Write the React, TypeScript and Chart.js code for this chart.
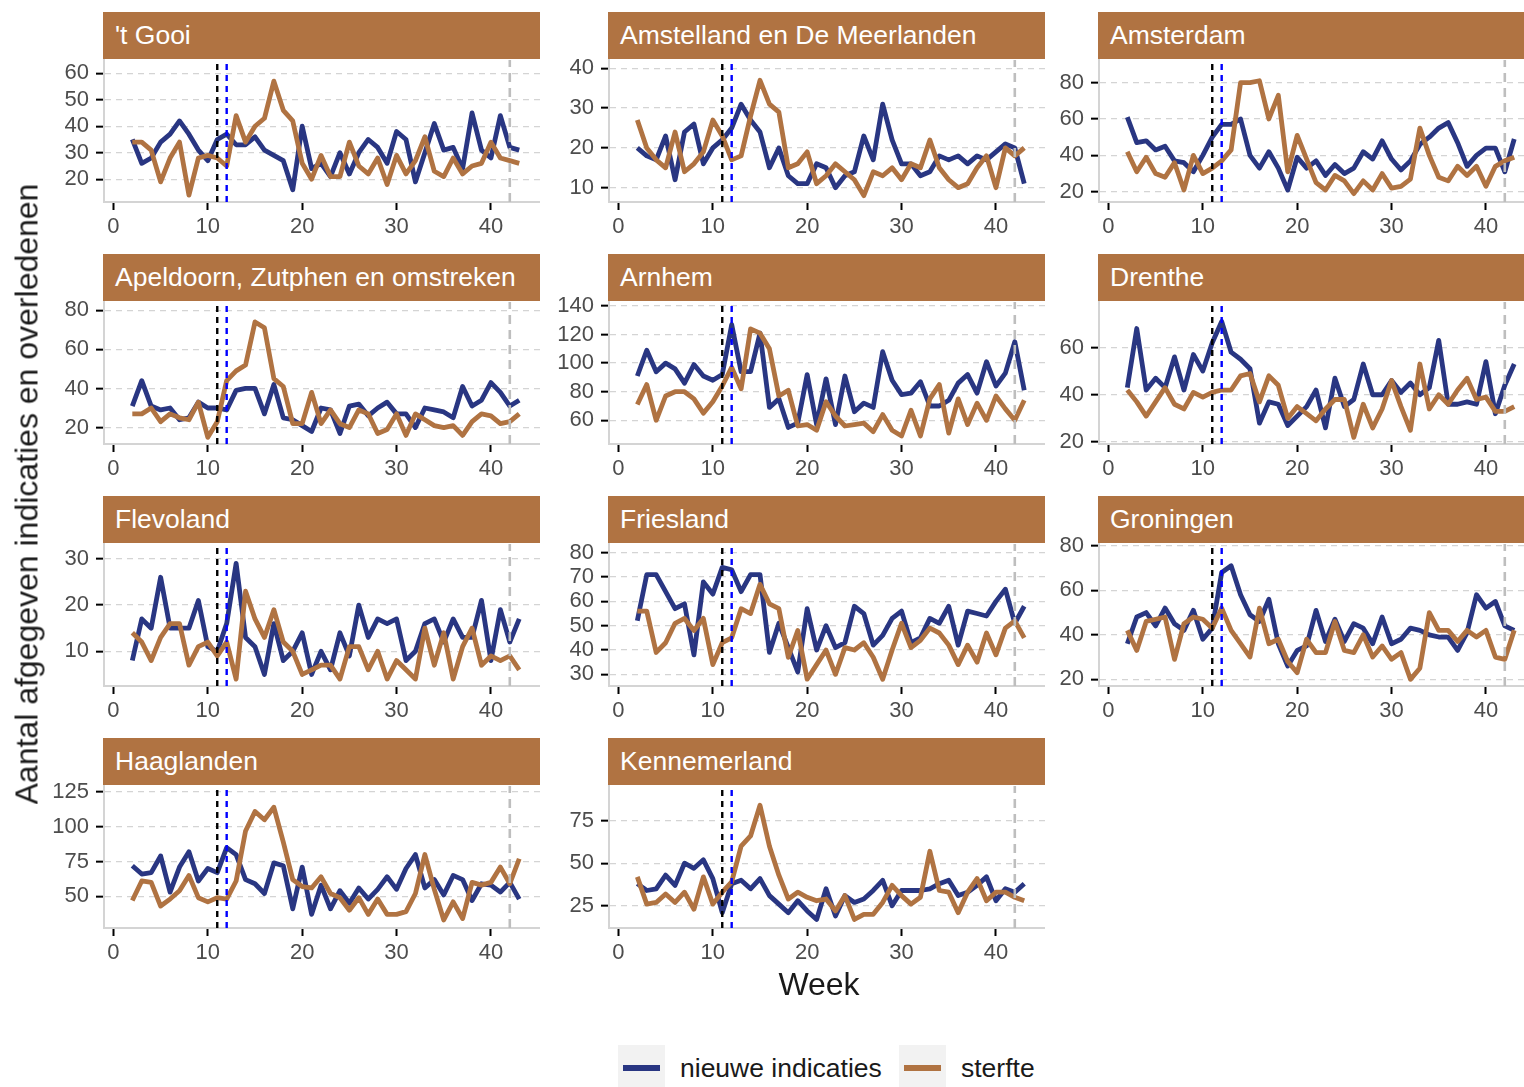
import React, { useEffect, useRef } from "react";
import { Chart, registerables } from "chart.js";

Chart.register(...registerables);

// ---------- data ----------
const weeks = [2, 3, 4, 5, 6, 7, 8, 9, 10, 11, 12, 13, 14, 15, 16, 17, 18, 19, 20, 21, 22, 23, 24, 25, 26, 27, 28, 29, 30, 31, 32, 33, 34, 35, 36, 37, 38, 39, 40, 41, 42, 43];
const xTicks = [0, 10, 20, 30, 40];
const seriesNames = ["nieuwe indicaties", "sterfte"];

const gooiIndicaties = [35, 26, 28, 34, 37, 42, 37, 31, 27, 35, 37, 33, 33, 36, 31, 29, 27, 16, 40, 24, 26, 21, 30, 22, 30, 35, 32, 26, 38, 35, 19, 30, 41, 31, 32, 24, 45, 31, 28, 44, 32, 31];
const gooiSterfte = [34, 34, 31, 19, 28, 34, 14, 28, 29, 28, 25, 44, 34, 40, 43, 57, 46, 42, 26, 20, 29, 21, 21, 34, 25, 22, 28, 18, 29, 22, 27, 36, 23, 21, 28, 22, 25, 26, 34, 28, 27, 26];
const gooiTicks = [20, 30, 40, 50, 60];

const amstellandIndicaties = [20, 18, 17, 23, 12, 24, 26, 16, 20, 22, 25, 31, 27, 24, 15, 20, 13, 11, 11, 16, 15, 10, 13, 14, 23, 17, 31, 22, 16, 16, 13, 14, 18, 17, 18, 16, 18, 17, 19, 21, 20, 11];
const amstellandSterfte = [27, 20, 17, 15, 24, 14, 16, 19, 27, 23, 17, 18, 28, 37, 31, 29, 15, 16, 19, 11, 13, 16, 14, 12, 8, 14, 13, 15, 12, 16, 15, 22, 15, 12, 10, 11, 15, 18, 10, 20, 18, 20];
const amstellandTicks = [10, 20, 30, 40];

const amsterdamIndicaties = [61, 47, 48, 43, 45, 37, 36, 31, 40, 50, 57, 57, 60, 40, 33, 42, 33, 21, 39, 33, 37, 29, 35, 30, 33, 42, 38, 48, 38, 32, 37, 46, 50, 55, 58, 47, 34, 40, 44, 44, 31, 49];
const amsterdamSterfte = [42, 31, 39, 30, 28, 36, 21, 40, 30, 33, 37, 43, 80, 80, 81, 60, 73, 31, 51, 38, 25, 21, 29, 26, 19, 26, 21, 30, 22, 23, 27, 55, 40, 28, 26, 34, 29, 34, 23, 34, 37, 39];
const amsterdamTicks = [20, 40, 60, 80];

const apeldoornIndicaties = [31, 44, 31, 29, 30, 24, 25, 33, 30, 30, 29, 39, 40, 40, 27, 42, 25, 24, 21, 18, 30, 29, 17, 31, 32, 26, 30, 33, 27, 27, 20, 30, 29, 28, 25, 41, 31, 34, 43, 38, 31, 34];
const apeldoornSterfte = [27, 27, 30, 23, 27, 25, 24, 33, 15, 23, 44, 49, 52, 74, 71, 45, 41, 22, 22, 38, 22, 29, 22, 20, 29, 27, 17, 19, 27, 16, 27, 24, 21, 20, 21, 16, 23, 27, 26, 22, 23, 27];
const apeldoornTicks = [20, 40, 60, 80];

const arnhemIndicaties = [91, 109, 94, 100, 96, 86, 99, 91, 88, 92, 127, 94, 94, 121, 69, 75, 55, 58, 92, 57, 89, 57, 91, 66, 72, 69, 108, 88, 78, 79, 87, 70, 70, 74, 86, 92, 79, 101, 84, 93, 115, 81];
const arnhemSterfte = [71, 85, 60, 77, 80, 80, 75, 65, 73, 84, 97, 82, 124, 121, 110, 77, 81, 56, 57, 53, 73, 63, 56, 57, 58, 52, 64, 53, 49, 67, 49, 75, 85, 51, 75, 57, 72, 60, 77, 68, 60, 74];
const arnhemTicks = [60, 80, 100, 120, 140];

const drentheIndicaties = [43, 68, 42, 47, 43, 56, 42, 57, 50, 62, 71, 58, 55, 51, 28, 37, 36, 27, 31, 35, 42, 26, 47, 35, 38, 53, 40, 40, 46, 41, 45, 40, 43, 63, 36, 36, 37, 36, 54, 32, 44, 53];
const drentheSterfte = [42, 37, 31, 37, 43, 36, 34, 41, 39, 41, 42, 42, 48, 49, 37, 48, 44, 30, 35, 32, 29, 34, 38, 38, 22, 36, 26, 34, 46, 35, 25, 53, 34, 40, 36, 42, 47, 38, 39, 33, 33, 35];
const drentheTicks = [20, 40, 60];

const flevolandIndicaties = [8, 17, 15, 26, 15, 15, 15, 21, 11, 10, 16, 29, 13, 11, 5, 16, 8, 10, 14, 5, 10, 6, 14, 9, 20, 13, 17, 16, 17, 8, 10, 16, 17, 12, 17, 13, 13, 21, 8, 19, 12, 17];
const flevolandSterfte = [14, 12, 8, 13, 16, 16, 7, 11, 12, 9, 12, 4, 23, 17, 13, 19, 12, 10, 5, 6, 7, 7, 4, 11, 11, 6, 10, 4, 8, 6, 4, 15, 7, 14, 4, 11, 15, 7, 9, 8, 9, 6];
const flevolandTicks = [10, 20, 30];

const frieslandIndicaties = [52, 71, 71, 64, 57, 59, 38, 68, 63, 74, 73, 64, 71, 71, 39, 51, 41, 31, 57, 40, 50, 41, 43, 58, 55, 42, 46, 53, 56, 43, 45, 53, 51, 58, 42, 56, 55, 54, 60, 65, 51, 58];
const frieslandSterfte = [56, 56, 39, 43, 51, 53, 48, 53, 34, 43, 45, 57, 55, 67, 59, 57, 37, 48, 28, 34, 40, 30, 41, 40, 43, 37, 28, 40, 51, 41, 44, 49, 47, 42, 34, 42, 35, 47, 38, 49, 52, 45];
const frieslandTicks = [30, 40, 50, 60, 70, 80];

const groningenIndicaties = [36, 48, 50, 44, 52, 45, 42, 51, 38, 43, 68, 71, 58, 49, 46, 56, 36, 26, 33, 35, 51, 37, 47, 37, 45, 43, 36, 48, 36, 38, 43, 42, 40, 39, 39, 33, 41, 58, 52, 55, 44, 42];
const groningenSterfte = [42, 33, 46, 47, 48, 29, 45, 48, 47, 43, 52, 42, 36, 30, 52, 36, 38, 28, 23, 38, 32, 32, 46, 33, 32, 40, 30, 35, 29, 32, 20, 25, 50, 42, 42, 37, 42, 39, 42, 30, 29, 42];
const groningenTicks = [20, 40, 60, 80];

const haaglandenIndicaties = [72, 66, 67, 79, 53, 71, 82, 61, 70, 67, 85, 80, 62, 59, 52, 74, 72, 41, 71, 37, 58, 41, 54, 45, 56, 48, 55, 64, 55, 70, 80, 56, 62, 51, 65, 62, 47, 59, 58, 53, 60, 48];
const haaglandenSterfte = [47, 61, 60, 43, 48, 54, 65, 49, 46, 49, 48, 61, 97, 111, 105, 114, 89, 62, 57, 56, 64, 52, 49, 40, 49, 37, 48, 37, 37, 39, 52, 80, 55, 33, 46, 34, 60, 58, 60, 71, 59, 77];
const haaglandenTicks = [50, 75, 100, 125];

const kennemerlandIndicaties = [38, 34, 35, 43, 37, 50, 47, 52, 41, 21, 38, 40, 35, 41, 31, 26, 21, 28, 22, 17, 35, 19, 31, 27, 29, 34, 40, 25, 34, 34, 34, 35, 38, 40, 31, 33, 37, 42, 28, 35, 33, 38];
const kennemerlandSterfte = [42, 26, 27, 32, 27, 33, 23, 42, 26, 33, 39, 60, 66, 84, 60, 43, 29, 33, 30, 28, 29, 22, 31, 17, 20, 20, 27, 37, 31, 26, 30, 57, 34, 33, 21, 33, 41, 28, 33, 33, 30, 28];
const kennemerlandTicks = [25, 50, 75];

const vlineWeeks = [11, 12, 42];

// ---------- styling / layout ----------
const FONT = '"Liberation Sans", Arial, Helvetica, sans-serif';
const BLUE = "#293682";
const BROWN = "#b07342";
const COL_LEFT = [104, 609, 1099];
const ROW_TOP = [60, 302, 544, 786];
const PLOT_W = 436;
const PLOT_H = 142;
const Y_AXIS_W = 60;
const PAD_TOP = 14;
const X_AXIS_H = 44;
const LINE_W = 4.8;

type Panel = {
  name: string;
  ind: number[];
  ster: number[];
  ticks: number[];
  yMin: number;
  yMax: number;
};

const panels: Panel[] = [
  { name: "'t Gooi", ind: gooiIndicaties, ster: gooiSterfte, ticks: gooiTicks, yMin: 11.4, yMax: 65.0 },
  { name: "Amstelland en De Meerlanden", ind: amstellandIndicaties, ster: amstellandSterfte, ticks: amstellandTicks, yMin: 6.4, yMax: 42.1 },
  { name: "Amsterdam", ind: amsterdamIndicaties, ster: amsterdamSterfte, ticks: amsterdamTicks, yMin: 14.4, yMax: 92.4 },
  { name: "Apeldoorn, Zutphen en omstreken", ind: apeldoornIndicaties, ster: apeldoornSterfte, ticks: apeldoornTicks, yMin: 11.6, yMax: 84.2 },
  { name: "Arnhem", ind: arnhemIndicaties, ster: arnhemSterfte, ticks: arnhemTicks, yMin: 43.4, yMax: 142.8 },
  { name: "Drenthe", ind: drentheIndicaties, ster: drentheSterfte, ticks: drentheTicks, yMin: 19.2, yMax: 79.2 },
  { name: "Flevoland", ind: flevolandIndicaties, ster: flevolandSterfte, ticks: flevolandTicks, yMin: 2.5, yMax: 33.2 },
  { name: "Friesland", ind: frieslandIndicaties, ster: frieslandSterfte, ticks: frieslandTicks, yMin: 25.2, yMax: 83.6 },
  { name: "Groningen", ind: groningenIndicaties, ster: groningenSterfte, ticks: groningenTicks, yMin: 17.0, yMax: 80.8 },
  { name: "Haaglanden", ind: haaglandenIndicaties, ster: haaglandenSterfte, ticks: haaglandenTicks, yMin: 27.2, yMax: 129.3 },
  { name: "Kennemerland", ind: kennemerlandIndicaties, ster: kennemerlandSterfte, ticks: kennemerlandTicks, yMin: 12.0, yMax: 95.3 },
];

const vlineStyles = [
  { color: "#000000", dash: [6, 5], width: 2.4 },
  { color: "#0000ff", dash: [6, 5], width: 2.4 },
  { color: "#bebebe", dash: [9, 6], width: 2.6 },
];

function PanelChart({ p, left, top }: { p: Panel; left: number; top: number }) {
  const ref = useRef<HTMLCanvasElement | null>(null);
  useEffect(() => {
    if (!ref.current) return;
    const toPts = (arr: number[]) => weeks.map((w, i) => ({ x: w, y: arr[i] }));
    const vlines = vlineWeeks.map((w, i) => ({
      data: [{ x: w, y: p.yMin }, { x: w, y: p.yMax }],
      borderColor: vlineStyles[i].color,
      borderDash: vlineStyles[i].dash,
      borderWidth: vlineStyles[i].width,
      pointRadius: 0,
      fill: false,
      order: 0,
    }));
    const chart = new Chart(ref.current, {
      type: "line",
      data: {
        datasets: [
          ...vlines,
          {
            label: seriesNames[1],
            data: toPts(p.ster),
            borderColor: BROWN,
            borderWidth: LINE_W,
            pointRadius: 0,
            fill: false,
            borderJoinStyle: "round",
            order: 1,
          },
          {
            label: seriesNames[0],
            data: toPts(p.ind),
            borderColor: BLUE,
            borderWidth: LINE_W,
            pointRadius: 0,
            fill: false,
            borderJoinStyle: "round",
            order: 2,
          },
        ] as any,
      },
      options: {
        animation: false,
        responsive: false,
        events: [],
        layout: { padding: { top: PAD_TOP, left: 0, right: 0, bottom: 0 } },
        plugins: { legend: { display: false }, tooltip: { enabled: false }, title: { display: false } },
        scales: {
          x: {
            type: "linear",
            min: -1.0,
            max: 45.2,
            afterBuildTicks: (s: any) => {
              s.ticks = xTicks.map((v) => ({ value: v }));
            },
            afterFit: (s: any) => {
              s.height = X_AXIS_H;
              s.paddingLeft = 0;
              s.paddingRight = 0;
            },
            grid: { drawOnChartArea: false, drawTicks: true, tickLength: 8, tickWidth: 2, tickColor: "#000" },
            border: { display: true, color: "#d4d4d4", width: 2 },
            ticks: { color: "#4d4d4d", font: { family: FONT, size: 22 }, padding: 4, maxRotation: 0, autoSkip: false },
          },
          y: {
            type: "linear",
            min: p.yMin,
            max: p.yMax,
            afterBuildTicks: (s: any) => {
              s.ticks = p.ticks.map((v) => ({ value: v }));
            },
            afterFit: (s: any) => {
              s.width = Y_AXIS_W;
              s.paddingTop = 0;
              s.paddingBottom = 0;
            },
            grid: { color: "#d4d4d4", lineWidth: 1.3, drawTicks: true, tickLength: 8, tickWidth: 2, tickColor: "#000" },
            border: { display: true, color: "#d4d4d4", width: 2, dash: [6, 5] },
            ticks: { color: "#4d4d4d", font: { family: FONT, size: 22 }, padding: 7, autoSkip: false },
          },
        },
      } as any,
    });
    return () => chart.destroy();
  }, [p]);
  const w = Y_AXIS_W + PLOT_W;
  const h = PAD_TOP + PLOT_H + X_AXIS_H;
  return (
    <canvas
      ref={ref}
      width={w}
      height={h}
      style={{ position: "absolute", left: left - Y_AXIS_W, top: top - PAD_TOP, width: w, height: h }}
    />
  );
}

export default function App() {
  return (
    <div
      style={{
        position: "fixed",
        left: 0,
        top: 0,
        width: 1524,
        height: 1087,
        overflow: "hidden",
        background: "#ffffff",
        fontFamily: FONT,
      }}
    >
      {panels.map((p, i) => {
        const col = i % 3;
        const row = Math.floor(i / 3);
        return (
          <div
            key={"s" + i}
            style={{
              position: "absolute",
              left: COL_LEFT[col] - 1,
              top: ROW_TOP[row] - 48,
              width: PLOT_W + 1,
              height: 47,
              background: BROWN,
              color: "#ffffff",
              fontSize: 26.5,
              lineHeight: "47px",
              paddingLeft: 12,
              boxSizing: "border-box",
              whiteSpace: "nowrap",
            }}
          >
            {p.name}
          </div>
        );
      })}
      {panels.map((p, i) => {
        const col = i % 3;
        const row = Math.floor(i / 3);
        return <PanelChart key={"c" + i} p={p} left={COL_LEFT[col]} top={ROW_TOP[row]} />;
      })}
      <div
        style={{
          position: "absolute",
          left: 27,
          top: 494,
          transform: "translate(-50%, -50%) rotate(-90deg)",
          whiteSpace: "nowrap",
          fontSize: 32,
          color: "#1a1a1a",
        }}
      >
        Aantal afgegeven indicaties en overledenen
      </div>
      <div
        style={{
          position: "absolute",
          left: 819,
          top: 984,
          transform: "translate(-50%, -50%)",
          whiteSpace: "nowrap",
          fontSize: 32,
          color: "#1a1a1a",
        }}
      >
        Week
      </div>
      {[
        { key: 618, text: seriesNames[0], color: BLUE, tx: 680 },
        { key: 899, text: seriesNames[1], color: BROWN, tx: 961 },
      ].map((l) => (
        <React.Fragment key={l.key}>
          <div style={{ position: "absolute", left: l.key, top: 1045, width: 47, height: 46, background: "#f2f2f2" }}>
            <div style={{ position: "absolute", left: 5, top: 20, width: 37, height: 6, background: l.color }} />
          </div>
          <div
            style={{
              position: "absolute",
              left: l.tx,
              top: 1068,
              transform: "translateY(-50%)",
              fontSize: 26.5,
              color: "#1a1a1a",
              whiteSpace: "nowrap",
            }}
          >
            {l.text}
          </div>
        </React.Fragment>
      ))}
    </div>
  );
}
